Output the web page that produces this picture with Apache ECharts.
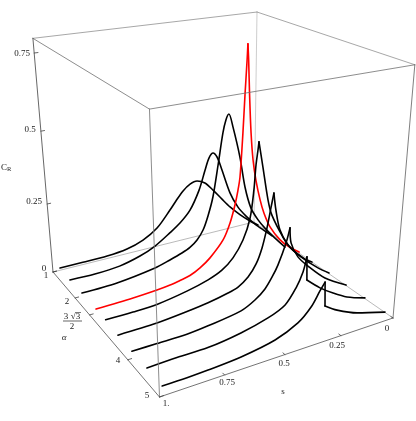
<!DOCTYPE html>
<html><head><meta charset="utf-8"><style>html,body{margin:0;background:#fff}#c{width:416px;height:421px}</style>
<script src="https://cdn.jsdelivr.net/npm/echarts@6/dist/echarts.min.js"></script></head><body><div id="c"></div><script>
// Data: for each alpha, s and C_R along the curve
const alphas=[1.25,1.75,2.2,2.598,3.1,3.6,4.05,4.55,5];
const s1=[.989,.888,.778,.685,.608,.539,.474,.444,.408,.373,.338,.299,.258,.212,.170,.117,.062,.018];
const c1=[.036,.036,.037,.045,.064,.097,.154,.183,.215,.235,.241,.227,.193,.150,.112,.072,.036,.011];
const s2=[.994,.886,.776,.682,.611,.539,.491,.442,.397,.367,.348,.328,.309,.290,.245,.204,.162,.114,.060,.021];
const c2=[.040,.038,.044,.062,.085,.121,.148,.187,.253,.321,.361,.376,.359,.320,.217,.156,.114,.074,.036,.009];
const s3=[.988,.838,.668,.599,.543,.505,.471,.442,.418,.394,.369,.346,.332,.318,.299,.265,.239,.208,.171,.135,.081,.026];
const c3=[.035,.038,.056,.071,.085,.098,.119,.150,.197,.261,.370,.477,.519,.537,.491,.382,.271,.188,.137,.099,.050,.004];
const s4=[.972,.815,.710,.651,.606,.560,.513,.466,.404,.371,.348,.334,.325,.313,.305,.297,.294,.290,.284,.275,.264,.249,.227,.207,.175,.122,.080,.020];
const c4=[.014,.017,.022,.027,.034,.042,.060,.087,.140,.195,.255,.305,.349,.496,.620,.729,.779,.729,.617,.491,.398,.326,.252,.201,.144,.085,.053,.018];
const s5=[.985,.873,.772,.641,.546,.483,.432,.386,.354,.338,.330,.322,.318,.298,.271,.251,.194,.153,.079,.042];
const c5=[.032,.032,.035,.052,.071,.092,.125,.179,.250,.343,.425,.473,.499,.413,.297,.241,.152,.104,.048,.029];
const s6=[.991,.834,.708,.617,.529,.484,.439,.403,.377,.356,.340,.328,.317,.296,.256,.191,.104,.046];
const c6=[.035,.037,.046,.055,.069,.080,.105,.143,.193,.257,.321,.368,.310,.239,.179,.124,.066,.035];
const s7=[.988,.890,.769,.681,.539,.478,.434,.403,.378,.344,.328,.321,.287,.238,.153,.045];
const c7=[.031,.031,.0315,.038,.055,.078,.106,.140,.175,.242,.289,.238,.184,.142,.082,.033];
const s8=[.990,.875,.752,.616,.501,.427,.381,.352,.337,.333,.271,.208,.140,.050];
const c8=[.035,.038,.038,.052,.074,.100,.146,.193,.239,.162,.122,.090,.061,.037];
const s9=[.989,.896,.815,.684,.544,.448,.393,.357,.336,.331,.275,.180,.043];
const c9=[.032,.032,.034,.041,.060,.092,.131,.175,.199,.120,.093,.061,.031];
const sCurves=[s1,s2,s3,s4,s5,s6,s7,s8,s9],cCurves=[c1,c2,c3,c4,c5,c6,c7,c8,c9];
const sharpAt=[[],[],[],[16],[12],[11],[10],[8,9],[8,9]];
const redCurve=3;
const cTicks=[0,.25,.5,.75],cLabels=['0','0.25','0.5','0.75'];
const alphaTicks=[1,2,2.598,4,5],alphaLabels=['1','2','4','5'];
const sTicks=[1,.75,.5,.25,0],sLabels=['1.','0.75','0.5','0.25','0'];

const F='"Liberation Serif",serif';
const cMax=0.795;
// perspective camera of the 3D box
function proj(s,al,c){const a=(al-1)/4,t=c/cMax,w=1-.1118*s-.1902*a-.093*t;
 return [(254+64.25*a-206.925*s-20.9*t)/w,(222+35.52*a+19.59*s-211.1*t)/w];}
const series=[];
function ln(pts,col,wd,z,smooth){series.push({type:'line',data:pts,symbol:'none',silent:true,clip:false,smooth:smooth||false,z:z,lineStyle:{color:col,width:wd,cap:'round',join:'round'}});}
const T=cMax;
const back='#a8a8a8',front='#707070';
ln([proj(1,1,0),proj(0,1,0)],back,.8,1);ln([proj(0,1,0),proj(0,5,0)],back,.8,1);ln([proj(0,1,0),proj(0,1,T)],'#c0c0c0',.8,1);
ln([proj(1,1,T),proj(0,1,T)],'#909090',.8,1);ln([proj(0,1,T),proj(0,5,T)],'#909090',.8,1);
alphas.forEach((al,i)=>{const d=sCurves[i].map((s,k)=>proj(s,al,cCurves[i][k]));
 const col=i===redCurve?'#f00':'#000';const cuts=[0,...sharpAt[i],d.length-1];
 for(let k=0;k<cuts.length-1;k++){const seg=d.slice(cuts[k],cuts[k+1]+1);ln(seg,col,1.6,3,seg.length>2?0.3:false);}});
ln([proj(1,1,T),proj(1,5,T)],front,.8,4);ln([proj(1,5,T),proj(0,5,T)],front,.8,4);ln([proj(1,1,T),proj(1,1,0)],'#404040',.8,4);
ln([proj(1,5,T),proj(1,5,0)],'#808080',.9,4);ln([proj(0,5,T),proj(0,5,0)],'#606060',.8,4);
ln([proj(1,1,0),proj(1,5,0)],'#505050',.8,4);ln([proj(1,5,0),proj(0,5,0)],'#505050',.8,4);
cTicks.forEach(c=>ln([proj(1,1,c),proj(.985,1,c)],'#404040',.8,4));
alphaTicks.forEach(a=>ln([proj(1,a,0),proj(.985,a,0)],'#404040',.8,4));
sTicks.slice(1).forEach(s=>ln([proj(s,5,0),proj(s,4.95,0)],'#404040',.8,4));
const txt=(t,x,y,o)=>({type:'text',x,y,z:10,style:Object.assign({text:t,font:'9px '+F,fill:'#222',align:'center',verticalAlign:'middle'},o||{})});
const cPos=[[44,269],[34,202],[30,130],[22,54]],aPos=[[46,276],[67,302],[118,361],[147,396]],sPos=[[166,404],[227,383],[284,364],[337,346],[387,329]];
const graphic=[...cLabels.map((t,i)=>txt(t,...cPos[i])),...alphaLabels.map((t,i)=>txt(t,...aPos[i])),...sLabels.map((t,i)=>txt(t,...sPos[i])),
 txt('s',283,392),txt('α',64,338,{font:'italic 9px '+F}),
 {type:'text',x:1,y:168,z:10,style:{text:'{a|C}{b|R}',fill:'#222',verticalAlign:'middle',rich:{a:{font:'9px '+F,fill:'#222'},b:{font:'6.5px '+F,fill:'#222',verticalAlign:'bottom'}}}},
 txt('3',66,317),txt('√3',75.5,317),txt('2',72,327),
 {type:'line',z:10,shape:{x1:63,y1:321,x2:82,y2:321},style:{stroke:'#222',lineWidth:.7}},
 {type:'line',z:10,shape:{x1:75.5,y1:312.5,x2:81,y2:312.5},style:{stroke:'#222',lineWidth:.6}}];
const chart=echarts.init(document.getElementById('c'),null,{renderer:'canvas'});
chart.setOption({animation:false,backgroundColor:'#fff',grid:{left:0,right:0,top:0,bottom:0},
 xAxis:{type:'value',min:0,max:416,show:false},yAxis:{type:'value',min:0,max:421,inverse:true,show:false},series,graphic});
</script></body></html>
